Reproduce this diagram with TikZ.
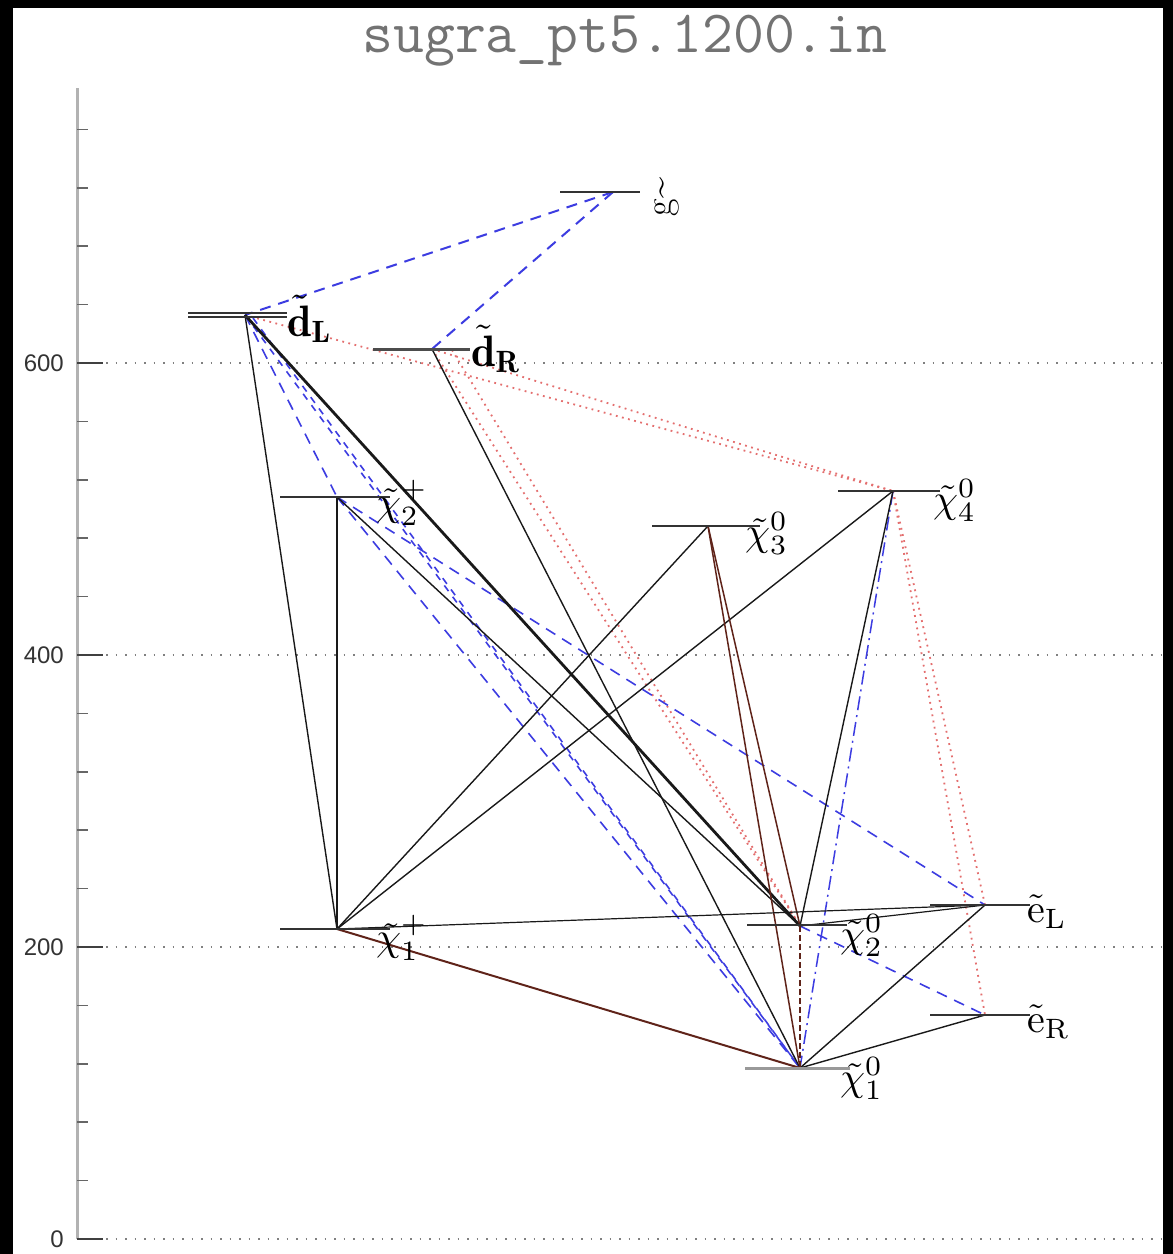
\documentclass[tikz,border=0pt]{standalone}
\usepackage{fontspec}
\newfontfamily\axisfont{Liberation Sans}
\definecolor{blu}{RGB}{60,60,225}
\definecolor{rdd}{RGB}{228,110,110}
\definecolor{brn}{RGB}{95,35,25}
\newcommand{\bigsym}[1]{\scalebox{4}{$#1$}}
\newcommand{\bigsymd}[1]{\scalebox{4.4}{$#1$}}
\tikzset{
 level/.style={line width=2pt, draw=black!80},
 dec/.style={line width=1.4pt, draw=black!90},
 decb/.style={line width=1.5pt, draw=brn},
 bdash/.style={line width=1.6pt, draw=blu, dash pattern=on 11pt off 8pt},
 bdd/.style={line width=1.5pt, draw=blu, dash pattern=on 14pt off 5pt on 2pt off 5pt},
 rdot/.style={line width=1.8pt, draw=rdd, dash pattern=on 1.8pt off 4.5pt},
 gridl/.style={line width=1.5pt, draw=black!50, dash pattern=on 1.5pt off 8pt},
 lab/.style={inner sep=0pt, anchor=base west},
 ax/.style={font=\axisfont\fontsize{24}{26}\selectfont, text=black!80, inner sep=0pt, anchor=east},
}
\begin{document}
\begin{tikzpicture}[x=1pt,y=-1pt]
\useasboundingbox (0,0) rectangle (1173,1254);
\fill[black] (0,0) rectangle (1173,1254);
\fill[white] (13,8) rectangle (1163,1254);

% title
\node[font={\fontsize{60}{64}\selectfont\ttfamily}, text=black!55, anchor=base, inner sep=0pt] (title) at (625,52) {sugra\_pt5.1200.in};

% axis
\draw[line width=3pt, draw=black!30] (77,88) -- (77,1239);
\foreach \k in {1,...,19}{
  \draw[line width=1.5pt, draw=black!60] (77,1239-58.4*\k) -- (88,1239-58.4*\k);
}
\foreach \y/\v in {1239/0,947/200,655/400,363/600}{
  \draw[line width=2pt, draw=black!75] (77,\y) -- (103,\y);
  \draw[gridl] (106,\y) -- (1163,\y);
  \node[ax] at (64,\y) {\v};
}

% vertices
\coordinate (gl) at (613,192);
\coordinate (dL) at (245,315);
\coordinate (dLb) at (253,318);
\coordinate (dR) at (432,349);
\coordinate (dRb) at (452,350);
\coordinate (c2) at (337,497);
\coordinate (n3) at (708,526);
\coordinate (n4) at (893,491);
\coordinate (c1) at (337,929);
\coordinate (n2) at (800,926);
\coordinate (eL) at (985,905);
\coordinate (eR) at (985,1015);
\coordinate (n1) at (800,1068);

% red dotted decays
\draw[rdot] (dL) -- (n4);
\draw[rdot] (dR) -- (n4);
\draw[rdot] (dR) -- (n2);
\draw[rdot] (dRb) -- (n2);
\draw[rdot] (n4) -- (eL);
\draw[rdot] (n4) -- (eR);

% blue dashed decays
\draw[bdash, line width=2pt] (gl) -- (dL);
\draw[bdash, line width=2pt] (gl) -- (dR);
\draw[bdash] (dL) -- (c2);
\draw[bdash, dash pattern=on 7pt off 7pt] (dL) -- (n1);
\draw[bdash, dash pattern=on 7pt off 7pt] (dLb) -- (n1);
\draw[bdash] (c2) -- (n1);
\draw[bdash] (c2) -- (eL);
\draw[bdash] (n2) -- (eR);
\draw[bdd] (n4) -- (n1);

% black decays
\draw[dec] (dL) -- (c1);
\draw[dec] (c2) -- (c1);
\draw[dec, line width=2.8pt] (dL) -- (n2);
\draw[dec] (dR) -- (n1);
\draw[dec] (c2) -- (n2);
\draw[dec] (c1) -- (n3);
\draw[dec] (c1) -- (n4);
\draw[decb, line width=2pt] (c1) -- (n1);
\draw[decb] (n3) -- (n2);
\draw[decb] (n3) -- (n1);
\draw[dec] (n4) -- (n2);
\draw[dec] (eL) -- (n1);
\draw[dec] (eR) -- (n1);
\draw[dec, line width=1.2pt] (c1) -- (eL);
\draw[dec, line width=1.2pt] (n2) -- (eL);
\draw[decb, dash pattern=on 6pt off 3pt] (n2) -- (n1);

% mass levels
\draw[level] ([xshift=-53pt]gl) -- ([xshift=27pt]gl);
\draw[level, line width=1.6pt] ([shift={(-57pt,-2pt)}]dL) -- ([shift={(42pt,-2pt)}]dL);
\draw[level, line width=1.6pt] ([shift={(-57pt,2pt)}]dL) -- ([shift={(42pt,2pt)}]dL);
\draw[level, line width=3pt, draw=black!70] ([xshift=-59pt]dR) -- ([xshift=38pt]dR);
\draw[level] ([xshift=-57pt]c2) -- ([xshift=53pt]c2);
\draw[level] ([xshift=-56pt]n3) -- ([xshift=52pt]n3);
\draw[level] ([xshift=-55pt]n4) -- ([xshift=47pt]n4);
\draw[level] ([xshift=-57pt]c1) -- ([xshift=53pt]c1);
\draw[level] ([shift={(-53pt,1pt)}]n2) -- ([shift={(47pt,1pt)}]n2);
\draw[level] ([xshift=-55pt]eL) -- ([xshift=45pt]eL);
\draw[level] ([xshift=-55pt]eR) -- ([xshift=45pt]eR);
\draw[level, line width=3pt, draw=black!40] ([xshift=-55pt]n1) -- ([xshift=50pt]n1);

% labels
\node[font=\fontsize{38}{40}\selectfont, inner sep=0pt, rotate=90] (lg) at (667,197) {g\textasciitilde};
\node[lab] (ldL) at (287,336) {\bigsymd{\tilde{\mathbf{d}}_{\mathbf{L}}}};
\node[lab] (ldR) at (471,366) {\bigsymd{\tilde{\mathbf{d}}_{\mathbf{R}}}};
\node[lab] (lc2) at (376,515) {\bigsym{\tilde{\chi}^{+}_{2}}};
\node[lab] (ln3) at (745,545) {\bigsym{\tilde{\chi}^{0}_{3}}};
\node[lab] (ln4) at (933,512) {\bigsym{\tilde{\chi}^{0}_{4}}};
\node[lab] (lc1) at (376,950) {\bigsym{\tilde{\chi}^{+}_{1}}};
\node[lab] (ln2) at (840,947) {\bigsym{\tilde{\chi}^{0}_{2}}};
\node[lab] (ln1) at (840,1090) {\bigsym{\tilde{\chi}^{0}_{1}}};
\node[lab] (leL) at (1027,922) {\bigsym{\tilde{\mathrm{e}}_{\mathrm{L}}}};
\node[lab] (leR) at (1027,1032) {\bigsym{\tilde{\mathrm{e}}_{\mathrm{R}}}};
\end{tikzpicture}
\end{document}
